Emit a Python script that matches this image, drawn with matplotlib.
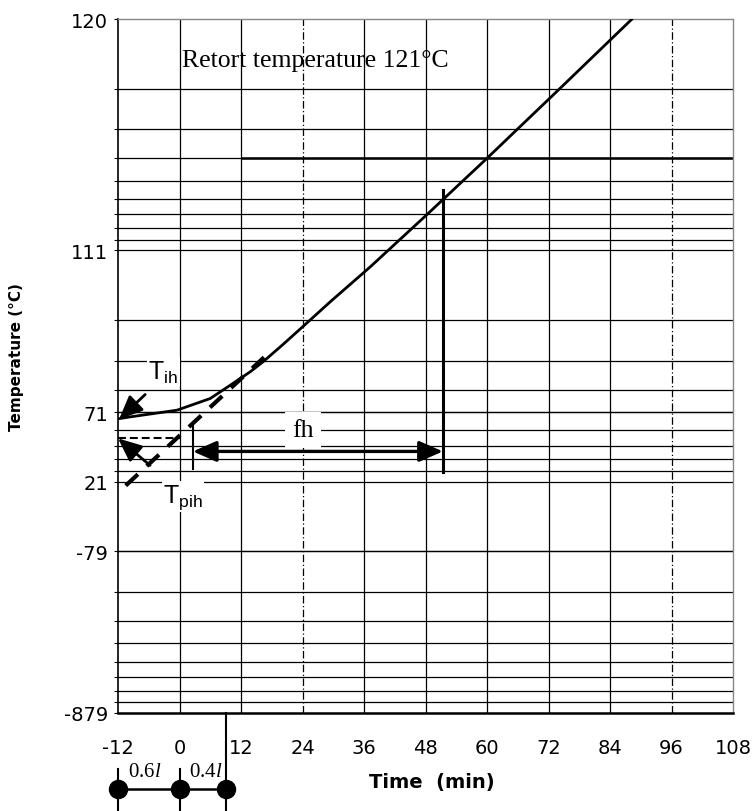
import numpy as np
import matplotlib.pyplot as plt
from matplotlib import transforms

plt.rcParams['axes.unicode_minus'] = False
plt.rcParams['mathtext.fontset'] = 'custom'
plt.rcParams['mathtext.rm'] = 'Liberation Sans'
plt.rcParams['mathtext.it'] = 'Liberation Serif:italic'

RETORT = 121.0

# heating curve, time (min) vs product temperature (C)
time_min = [-12, -9.7, -0.5, 6, 9.9, 13.8, 16.4, 20.3, 25.5, 29.4, 37.2, 48.3, 60, 74.2, 88.3]
temp_c = [67.5, 68.5, 71.9, 77.3, 82.7, 87.5, 90.8, 95.6, 101, 104.3, 109.2, 114, 117, 119, 120]

# straight-line portion extended back towards the start
extrap_time = [-10.5, 16.5]
extrap_temp = [17, 92]

t_ih = 67.2
t_pih = 56
fh_start, fh_end = 2.6, 51.4
fh_level = 47
fh_left_span = [65, 33]
fh_right_span = [115.5, 30]

# lag marks under the time axis
lag_marks = [-12, 0, 9]
lag_labels = ['0.6$\\mathit{l}$', '0.4$\\mathit{l}$']

x_ticks = [-12, 0, 12, 24, 36, 48, 60, 72, 84, 96, 108]
y_ticks = [120, 111, 71, 21, -79, -879]
y_ticklabels = ['120', '111', '71', '21', '-79', '-879']
gaps = [2, 3, 4, 5, 6, 7, 8, 9, 20, 30, 40, 50, 60, 70, 80, 90,
        200, 300, 400, 500, 600, 700, 800, 900]
y_minor = [RETORT - g for g in gaps]


def forward(T):
    T = np.asarray(T, dtype=float)
    return -np.log10(np.maximum(RETORT - T, 1e-6))


def inverse(u):
    return RETORT - 10 ** (-np.asarray(u, dtype=float))


fig = plt.figure(figsize=(7.54, 8.12), dpi=100)
ax = fig.add_axes([118 / 754, 1 - 714 / 812, 615 / 754, 694 / 812])
ax.set_yscale('function', functions=(forward, inverse))
ax.set_xlim(-12, 108)
ax.set_ylim(-879, 120)

# semi-log paper
for t in x_ticks[1:-1]:
    ls = (0, (6, 2, 1, 2)) if t in (24, 96) else '-'
    ax.axvline(t, color='black', lw=0.9, ls=ls, zorder=1)
for T in y_ticks[1:-1] + y_minor:
    ax.axhline(T, color='black', lw=0.9, zorder=1)
ax.hlines(117, 12, 108, color='black', lw=1.8, zorder=1)

ax.set_xticks(x_ticks)
ax.set_yticks(y_ticks)
ax.set_yticklabels(y_ticklabels)
ax.set_yticks(y_minor, minor=True)
ax.tick_params(axis='x', length=0, pad=18, labelsize=14)
ax.tick_params(axis='y', which='both', length=3, width=0.8, direction='out',
               pad=4, labelsize=14)

for side in ['top', 'right']:
    ax.spines[side].set_color('#888888')
    ax.spines[side].set_linestyle((0, (1, 1)))
    ax.spines[side].set_linewidth(1.0)
ax.spines['left'].set_linewidth(1.2)
ax.spines['bottom'].set_linewidth(1.8)

# heating curve and extrapolated line
ax.plot(time_min, temp_c, color='black', lw=2, zorder=3)
ax.plot(extrap_time, extrap_temp, color='black', lw=3, ls=(0, (4, 2.9)), zorder=3)
ax.plot([-12, 0], [t_pih, t_pih], color='black', lw=1.5, ls=(0, (3.8, 1.9)), zorder=3)

# fh: one log cycle
ax.plot([fh_start, fh_start], fh_left_span, color='black', lw=1.5, zorder=3)
ax.plot([fh_end, fh_end], fh_right_span, color='black', lw=2.2, zorder=3)
ax.annotate('', xy=(fh_start, fh_level), xytext=(fh_end, fh_level),
            arrowprops=dict(arrowstyle='<|-|>,head_length=0.8,head_width=0.35',
                            mutation_scale=18, lw=2.4, color='black',
                            shrinkA=0, shrinkB=0), zorder=4)
ax.text(24.1, 61, 'fh', family='Liberation Serif', fontsize=18.5,
        ha='center', va='center', zorder=5,
        bbox=dict(facecolor='white', edgecolor='none', pad=5))

# initial and pseudo-initial temperatures
ax.annotate('', xy=(-11.8, t_ih), xytext=(-6.7, 79),
            arrowprops=dict(arrowstyle='-|>,head_length=0.8,head_width=0.35',
                            mutation_scale=18, lw=2, color='black',
                            shrinkA=0, shrinkB=0), zorder=4)
ax.annotate('', xy=(-12, t_pih), xytext=(-5.75, 36),
            arrowprops=dict(arrowstyle='-|>,head_length=0.8,head_width=0.35',
                            mutation_scale=18, lw=2, color='black',
                            shrinkA=0, shrinkB=0), zorder=4)
ax.text(-6.1, 87.6, r'$\mathrm{T_{ih}}$', fontsize=18, ha='left', va='center',
        zorder=5, bbox=dict(facecolor='white', edgecolor='none', pad=1))
ax.text(-3.2, 5, r'$\mathrm{T_{pih}}$', fontsize=18, ha='left', va='center',
        zorder=5, bbox=dict(facecolor='white', edgecolor='none', pad=1))

ax.text(0.5, 119.5, 'Retort temperature 121°C', family='Liberation Serif',
        fontsize=18.5, ha='left', va='center', zorder=5)

# lag marks below the time axis
blend = transforms.blended_transform_factory(ax.transData, fig.transFigure)
y_axis = ax.get_position().y0
y_line = 1 - 790 / 812
ax.plot(lag_marks, [y_line] * 3, color='black', lw=1.8, marker='o',
        markersize=13, transform=blend, clip_on=False)
for t in lag_marks[:2]:
    ax.plot([t, t], [1 - 770 / 812, 0], color='black', lw=1.5,
            transform=blend, clip_on=False)
ax.plot([lag_marks[2], lag_marks[2]], [y_axis, 0], color='black', lw=1.5,
        transform=blend, clip_on=False)
for t0, t1, lab in zip(lag_marks[:-1], lag_marks[1:], lag_labels):
    ax.text(t0 + 1.9, 1 - 773 / 812, lab, family='Liberation Serif',
            fontsize=15, ha='left', va='center', transform=blend)

fig.text(432 / 754, 1 - 783 / 812, 'Time  (min)', fontweight='bold',
         fontsize=14, ha='center', va='center')
fig.text(17 / 754, 1 - 357 / 812, 'Temperature (°C)', fontweight='bold',
         fontsize=11, ha='center', va='center', rotation=90)

fig.savefig('out.png', dpi=100)
